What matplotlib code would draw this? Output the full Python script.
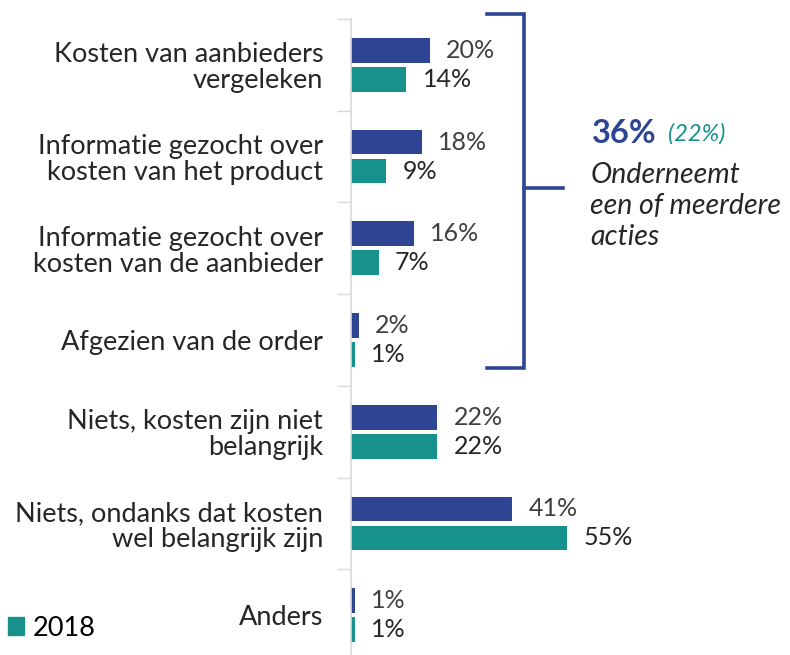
import numpy as np
import matplotlib
matplotlib.use("Agg")
import matplotlib.pyplot as plt
from matplotlib.patches import Patch

plt.rcParams['font.family'] = ['Lato', 'DejaVu Sans']

# data
categories = [
    "Kosten van aanbieders\nvergeleken",
    "Informatie gezocht over\nkosten van het product",
    "Informatie gezocht over\nkosten van de aanbieder",
    "Afgezien van de order",
    "Niets, kosten zijn niet\nbelangrijk",
    "Niets, ondanks dat kosten\nwel belangrijk zijn",
    "Anders",
]
values_new = [20, 18, 16, 2, 22, 41, 1]
values_2018 = [14, 9, 7, 1, 22, 55, 1]
total_new = 36
total_2018 = 22

BLUE = '#2e4593'
TEAL = '#16918c'
TEXT = '#262626'

fig = plt.figure(figsize=(7.9, 6.55), dpi=100)
W, H = 790, 655
# axes: left spine at x=351 px, top at y=19 px, 7 bands of ~91.7 px
ax = fig.add_axes([351 / W, 1 - 661 / H, 393 / W, 642 / H])

y = np.arange(len(categories)) + 0.5
off = 0.158
h = 0.27
ax.barh(y - off, values_new, height=h, color=BLUE)
ax.barh(y + off, values_2018, height=h, color=TEAL)

for yi, v in zip(y, values_new):
    ax.text(v + 4.2, yi - off, f"{v}%", va='center', ha='left', fontsize=18, color='#404040')
for yi, v in zip(y, values_2018):
    ax.text(v + 4.2, yi + off, f"{v}%", va='center', ha='left', fontsize=18, color=TEXT)

ax.set_xlim(0, 100)
ax.set_ylim(len(categories), 0)
ax.set_xticks([])
ax.set_yticks(y)
ax.set_yticklabels(categories, fontsize=19.5, color=TEXT, linespacing=1.05)
ax.tick_params(axis='y', which='major', length=0, pad=20)
ax.set_yticks(np.arange(len(categories) + 1), minor=True)
ax.tick_params(axis='y', which='minor', length=10, color='#d9d9d9', width=1)
for s in ['top', 'right', 'bottom']:
    ax.spines[s].set_visible(False)
ax.spines['left'].set_color('#d9d9d9')
ax.spines['left'].set_linewidth(1.2)

# bracket around the action categories
bx0, bx1, bx2 = 34.6, 44.0, 54.0
by0, by1, bym = -0.055, 3.81, 1.84
ax.plot([bx0, bx1, bx1, bx0], [by0, by0, by1, by1], color=BLUE, lw=2.6,
        clip_on=False, solid_joinstyle='miter')
ax.plot([bx1, bx2], [bym, bym], color=BLUE, lw=2.6, clip_on=False)

t = ax.text(61.3, 1.25, f"{total_new}%", fontsize=23.5, fontweight='bold', color=BLUE,
            va='center', ha='left')
ax.annotate(f"({total_2018}%)", xycoords=t, xy=(1, 0.5), xytext=(8, 0),
            textcoords='offset points', fontsize=17, style='italic', color=TEAL,
            va='center', ha='left')
ax.text(60.9, 1.555, "Onderneemt\neen of meerdere\nacties", fontsize=20.5, style='italic',
        color=TEXT, va='top', ha='left', linespacing=1.24)

fig.legend(handles=[Patch(color=TEAL)], labels=['2018'], loc='center left',
           bbox_to_anchor=(8 / W, 1 - 628 / H), frameon=False, fontsize=19.5,
           handlelength=0.6, handleheight=0.6, handletextpad=0.3,
           borderaxespad=0, borderpad=0)

fig.savefig('out.png', dpi=100)
